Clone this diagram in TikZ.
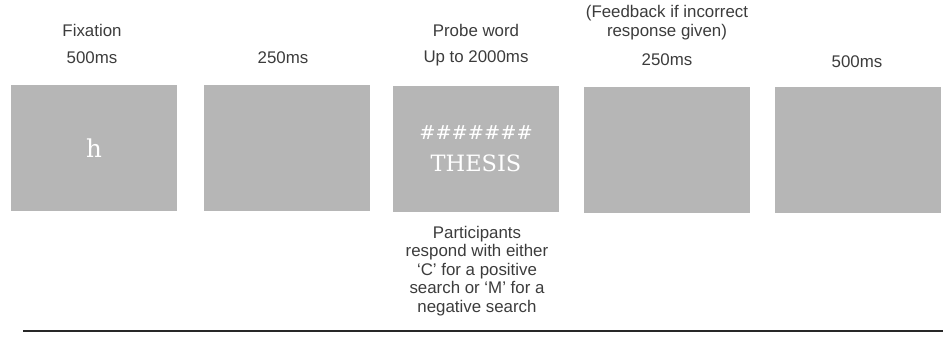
\documentclass[tikz,border=0pt]{standalone}
\usepackage{fontspec}
\setmainfont{Liberation Sans}
\newfontfamily\slidefont{DejaVu Serif}
\definecolor{screengray}{RGB}{182,182,182}
\definecolor{labelgray}{RGB}{60,60,60}
\definecolor{rulegray}{RGB}{40,40,40}
\tikzset{
  screen/.style={fill=screengray, minimum width=3.32cm, minimum height=2.54cm,
    inner sep=0pt, text=white, align=center,
    font=\slidefont\fontsize{12.8}{18}\selectfont},
  timing/.style={text=labelgray, align=center, inner sep=0pt,
    font=\fontsize{9.6}{10.8}\selectfont},
}
\begin{document}
\begin{tikzpicture}[x=0.02cm,y=-0.02cm]
  \useasboundingbox (0,0) rectangle (943,340);
  % screens of one trial
  \node[screen, font=\slidefont\fontsize{14}{18}\selectfont] (fix) at (94,148) {h};
  \node[screen] (blankA) at (287,148) {};
  \node[screen] (probe) at (476,149)
    {{\fontsize{11}{18}\selectfont\#\#\#\#\#\#\#}\\THESIS};
  \node[screen] (feedback) at (667,150) {};
  \node[screen] (blankB) at (858,150) {};
  % timings above the screens
  \node[timing] (fixname) at (92,30) {Fixation};
  \node[timing] (fixtime) at (92,58) {500ms};
  \node[timing] (blankAtime) at (283,58) {250ms};
  \node[timing] (probename) at (476,30) {Probe word};
  \node[timing] (probetime) at (476,58) {Up to 2000ms};
  \node[timing] (feedbackname) at (667,23) {(Feedback if incorrect\\response given)};
  \node[timing] (feedbacktime) at (667,60) {250ms};
  \node[timing] (blankBtime) at (857,62) {500ms};
  % response note
  \node[timing, font=\fontsize{9.6}{10.5}\selectfont] (response) at (477,271)
    {Participants\\respond with either\\`C' for a positive\\search or `M' for a\\negative search};
  \coordinate (ruleL) at (23,331);
  \coordinate (ruleR) at (943,331);
  \draw[line width=1.1pt, rulegray] (ruleL) -- (ruleR);
\end{tikzpicture}
\end{document}
